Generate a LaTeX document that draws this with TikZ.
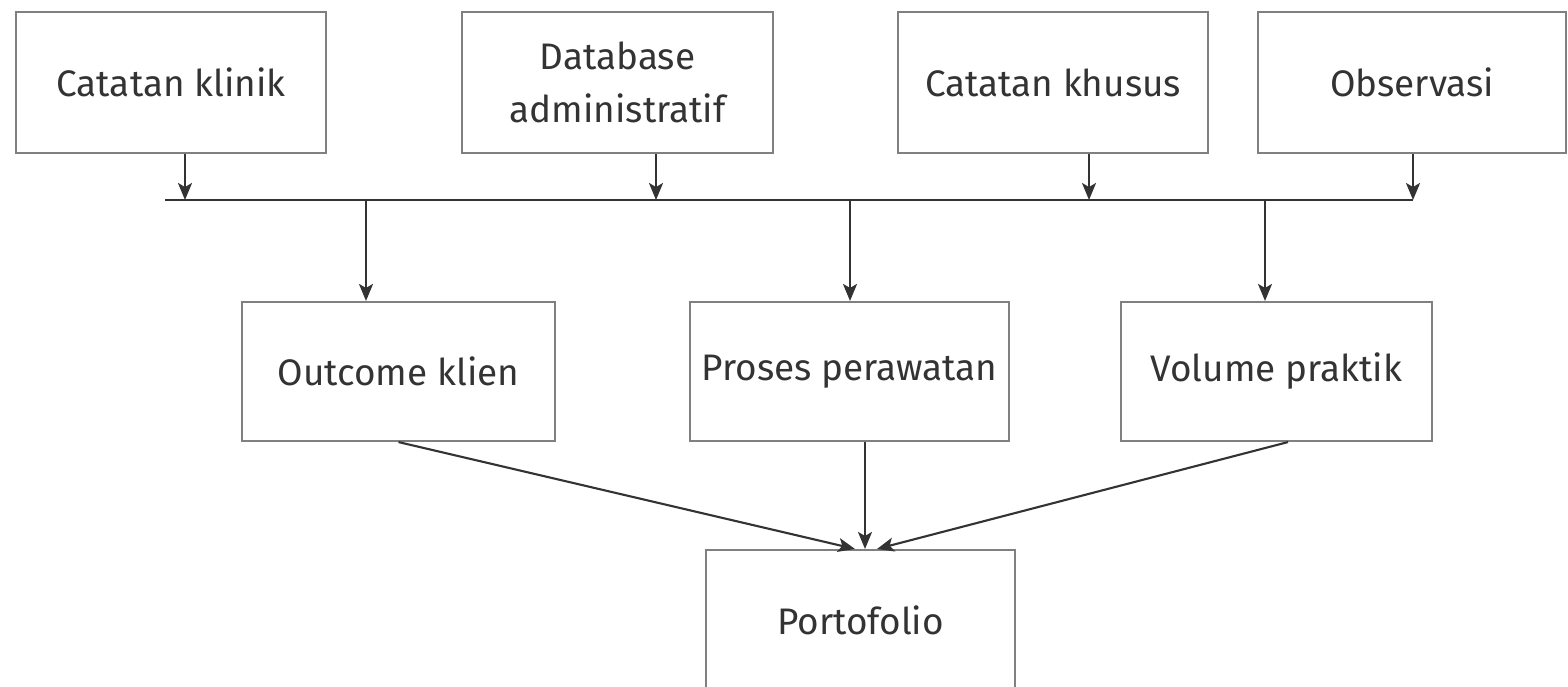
\documentclass[tikz,border=0pt]{standalone}
\usepackage{fontspec}
\setmainfont{Fira Sans}
\usetikzlibrary{arrows.meta,positioning}

\begin{document}
\begin{tikzpicture}[box/.style={draw=black!50, line width=0.6pt, rectangle, text=black!80, font=\fontsize{10.5}{15}\selectfont, align=center},
  link/.style={-{Stealth[length=1.7mm, width=1.4mm, inset=0.4mm]}, draw=black!80, line width=0.6pt}]
\useasboundingbox (0,0) rectangle (15.68,-6.86);
\node (klinik)[box, minimum height=1.41cm, minimum width=3.10cm] at (1.71,-0.825) {Catatan klinik};
\node (dbadm) [box, minimum height=1.41cm, minimum width=3.11cm, node distance=4.465cm, right of=klinik] {Database\\administratif};
\node (khusus)[box, minimum height=1.41cm, minimum width=3.10cm, node distance=4.355cm, right of=dbadm] {Catatan khusus};
\node (obs)   [box, minimum height=1.41cm, minimum width=3.08cm, node distance=3.59cm, right of=khusus] {Observasi};

\node (outcome)[box, minimum height=1.39cm, minimum width=3.13cm] at (3.985,-3.715) {Outcome klien};
\node (proses) [box, minimum height=1.39cm, minimum width=3.13cm, node distance=4.51cm, right of=outcome] {Proses perawatan};
\node (volume) [box, minimum height=1.39cm, minimum width=3.11cm, node distance=4.27cm, right of=proses] {Volume praktik};
\node (porto)  [box, minimum height=1.41cm, minimum width=3.09cm, node distance=2.49cm, below of=proses, xshift=0.11cm] {Portofolio};

% bus line
\coordinate (busl) at (1.65,-2.00);
\coordinate (busr) at (14.13,-2.00);
\draw [draw=black!80, line width=0.6pt](busl)--(busr);
\coordinate (in1) at (1.85,-2.00);
\coordinate (in2) at (6.56,-2.00);
\coordinate (in3) at (10.89,-2.00);
\coordinate (in4) at (14.13,-2.00);
\draw [link](klinik.south -| in1)--(in1);
\draw [link](dbadm.south -| in2)--(in2);
\draw [link](khusus.south -| in3)--(in3);
\draw [link](obs.south -| in4)--(in4);

\coordinate (out1) at (3.66,-2.00);
\coordinate (out2) at (8.50,-2.00);
\coordinate (out3) at (12.65,-2.00);
\draw [link](out1)--(out1 |- outcome.north);
\draw [link](out2)--(out2 |- proses.north);
\draw [link](out3)--(out3 |- volume.north);

\draw [link](outcome.south)--([xshift=-0.055cm]porto.north);
\draw [link]([xshift=0.045cm]porto.north |- proses.south)--([xshift=0.045cm]porto.north);
\draw [link]([xshift=0.115cm]volume.south)--([xshift=0.165cm]porto.north);
\end{tikzpicture}
\end{document}
